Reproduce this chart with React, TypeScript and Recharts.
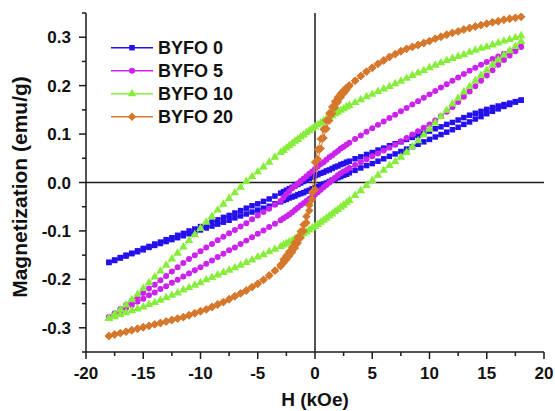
import React from 'react';
import { ScatterChart, Scatter, XAxis, YAxis, ReferenceLine, Symbols } from 'recharts';

// applied field H (kOe), descending branch order
const fieldDown = [
  18, 17.5, 17, 16.5, 16, 15.5, 15, 14.5, 14, 13.5, 13, 12.5, 12, 11.5, 11, 10.5,
  10, 9.5, 9, 8.5, 8, 7.5, 7, 6.5, 6, 5.5, 5, 4.5, 4, 3.5, 3,
  2.75, 2.5, 2.25, 2, 1.75, 1.5, 1.25, 1, 0.75, 0.5, 0.25, 0, -0.25, -0.5, -0.75,
  -1, -1.25, -1.5, -1.75, -2, -2.25, -2.5, -2.75,
  -3, -3.5, -4, -4.5, -5, -5.5, -6, -6.5, -7, -7.5, -8, -8.5, -9, -9.5, -10,
  -10.5, -11, -11.5, -12, -12.5, -13, -13.5, -14, -14.5, -15, -15.5, -16, -16.5,
  -17, -17.5, -18,
];
// ascending branch uses the same field steps in reverse
const fieldUp = [...fieldDown].reverse();

// BYFO 0
const byfo0Down = [
  0.170, 0.167, 0.164, 0.161, 0.158, 0.155, 0.151, 0.147, 0.143, 0.139, 0.134, 0.129, 0.124, 0.120, 0.115, 0.111,
  0.106, 0.102, 0.097, 0.093, 0.089, 0.084, 0.080, 0.076, 0.071, 0.067, 0.062, 0.058, 0.053, 0.049, 0.044,
  0.042, 0.039, 0.037, 0.034, 0.032, 0.029, 0.026, 0.024, 0.021, 0.019, 0.016, 0.014, 0.011, 0.008, 0.005,
  0.002, -0.001, -0.004, -0.007, -0.010, -0.013, -0.016, -0.019,
  -0.022, -0.028, -0.034, -0.039, -0.044, -0.048, -0.053, -0.058, -0.063, -0.068, -0.072, -0.077, -0.082, -0.087, -0.091,
  -0.096, -0.100, -0.105, -0.109, -0.114, -0.118, -0.123, -0.127, -0.132, -0.136, -0.141, -0.146, -0.150,
  -0.155, -0.160, -0.165,
];
const byfo0Up = [
  -0.165, -0.161, -0.156, -0.152, -0.147, -0.143, -0.139, -0.134, -0.130, -0.126, -0.122, -0.118, -0.114, -0.110, -0.106, -0.102,
  -0.098, -0.094, -0.090, -0.086, -0.082, -0.078, -0.073, -0.069, -0.065, -0.061, -0.057, -0.053, -0.049, -0.044, -0.040,
  -0.037, -0.035, -0.032, -0.030, -0.028, -0.025, -0.023, -0.021, -0.018, -0.016, -0.013, -0.011, -0.008, -0.006, -0.003,
  -0.001, 0.002, 0.005, 0.007, 0.010, 0.012, 0.015, 0.017,
  0.020, 0.025, 0.030, 0.035, 0.039, 0.044, 0.049, 0.054, 0.059, 0.064, 0.069, 0.074, 0.079, 0.084, 0.089,
  0.094, 0.099, 0.104, 0.109, 0.114, 0.120, 0.125, 0.131, 0.136, 0.142, 0.147, 0.152, 0.157,
  0.161, 0.166, 0.170,
];

// BYFO 5
const byfo5Down = [
  0.281, 0.276, 0.271, 0.266, 0.260, 0.255, 0.249, 0.243, 0.237, 0.231, 0.224, 0.217, 0.210, 0.203, 0.196, 0.189,
  0.182, 0.175, 0.168, 0.161, 0.154, 0.147, 0.140, 0.133, 0.126, 0.119, 0.112, 0.105, 0.097, 0.090, 0.082,
  0.078, 0.074, 0.070, 0.065, 0.061, 0.056, 0.052, 0.047, 0.042, 0.038, 0.033, 0.028, 0.023, 0.018, 0.013,
  0.008, 0.003, -0.002, -0.007, -0.012, -0.018, -0.024, -0.031,
  -0.038, -0.046, -0.054, -0.061, -0.068, -0.076, -0.084, -0.091, -0.098, -0.105, -0.112, -0.119, -0.127, -0.134, -0.142,
  -0.150, -0.158, -0.166, -0.175, -0.184, -0.193, -0.202, -0.211, -0.219, -0.228, -0.236, -0.244, -0.253,
  -0.261, -0.270, -0.278,
];
const byfo5Up = [
  -0.278, -0.272, -0.266, -0.259, -0.253, -0.246, -0.240, -0.233, -0.227, -0.220, -0.214, -0.207, -0.201, -0.194, -0.188, -0.181,
  -0.175, -0.168, -0.161, -0.154, -0.147, -0.140, -0.134, -0.127, -0.120, -0.113, -0.106, -0.099, -0.092, -0.085, -0.078,
  -0.074, -0.070, -0.066, -0.062, -0.057, -0.052, -0.047, -0.043, -0.038, -0.034, -0.029, -0.025, -0.020, -0.015, -0.010,
  -0.005, 0.000, 0.005, 0.010, 0.015, 0.019, 0.023, 0.026,
  0.030, 0.036, 0.042, 0.048, 0.054, 0.060, 0.066, 0.072, 0.078, 0.085, 0.092, 0.099, 0.106, 0.113, 0.120,
  0.128, 0.137, 0.146, 0.156, 0.166, 0.177, 0.188, 0.199, 0.210, 0.221, 0.232, 0.243, 0.253,
  0.262, 0.271, 0.280,
];

// BYFO 10
const byfo10Down = [
  0.303, 0.299, 0.295, 0.292, 0.288, 0.284, 0.280, 0.277, 0.273, 0.269, 0.264, 0.260, 0.256, 0.252, 0.247, 0.242,
  0.237, 0.231, 0.226, 0.221, 0.215, 0.209, 0.204, 0.198, 0.193, 0.188, 0.182, 0.177, 0.171, 0.165, 0.159,
  0.156, 0.152, 0.149, 0.145, 0.142, 0.138, 0.135, 0.131, 0.127, 0.123, 0.119, 0.115, 0.111, 0.107, 0.103,
  0.098, 0.094, 0.089, 0.085, 0.080, 0.076, 0.071, 0.066,
  0.062, 0.052, 0.042, 0.032, 0.022, 0.012, 0.002, -0.010, -0.021, -0.033, -0.045, -0.057, -0.070, -0.082, -0.095,
  -0.108, -0.120, -0.133, -0.146, -0.158, -0.171, -0.183, -0.195, -0.207, -0.219, -0.231, -0.242, -0.253,
  -0.263, -0.272, -0.281,
];
const byfo10Up = [
  -0.281, -0.277, -0.273, -0.269, -0.265, -0.261, -0.257, -0.252, -0.248, -0.243, -0.238, -0.233, -0.228, -0.222, -0.217, -0.212,
  -0.207, -0.201, -0.196, -0.191, -0.186, -0.181, -0.176, -0.171, -0.165, -0.160, -0.154, -0.149, -0.143, -0.138, -0.132,
  -0.129, -0.126, -0.123, -0.120, -0.116, -0.113, -0.109, -0.106, -0.102, -0.098, -0.094, -0.091, -0.087, -0.082, -0.078,
  -0.074, -0.069, -0.065, -0.060, -0.056, -0.051, -0.047, -0.042,
  -0.037, -0.027, -0.017, -0.006, 0.004, 0.015, 0.025, 0.035, 0.043, 0.052, 0.062, 0.074, 0.086, 0.098, 0.110,
  0.123, 0.136, 0.149, 0.162, 0.174, 0.187, 0.198, 0.210, 0.221, 0.232, 0.243, 0.253, 0.263,
  0.272, 0.281, 0.291,
];

// BYFO 20
const byfo20Down = [
  0.342, 0.340, 0.338, 0.336, 0.333, 0.331, 0.328, 0.325, 0.322, 0.319, 0.316, 0.312, 0.309, 0.305, 0.301, 0.297,
  0.292, 0.288, 0.284, 0.280, 0.276, 0.271, 0.265, 0.259, 0.252, 0.245, 0.237, 0.229, 0.220, 0.210, 0.201,
  0.196, 0.190, 0.184, 0.176, 0.167, 0.156, 0.143, 0.128, 0.110, 0.090, 0.068, 0.042, -0.020, -0.047, -0.070,
  -0.087, -0.101, -0.113, -0.124, -0.134, -0.143, -0.151, -0.159,
  -0.170, -0.182, -0.192, -0.201, -0.209, -0.216, -0.223, -0.229, -0.235, -0.241, -0.247, -0.252, -0.257, -0.262, -0.266,
  -0.270, -0.274, -0.278, -0.281, -0.284, -0.287, -0.290, -0.293, -0.296, -0.299, -0.302, -0.305, -0.308,
  -0.311, -0.314, -0.317,
];
const byfo20Up = [
  -0.317, -0.314, -0.311, -0.308, -0.305, -0.302, -0.299, -0.296, -0.293, -0.290, -0.287, -0.284, -0.281, -0.278, -0.274, -0.270,
  -0.266, -0.262, -0.257, -0.252, -0.247, -0.241, -0.235, -0.229, -0.223, -0.216, -0.209, -0.201, -0.192, -0.182, -0.173,
  -0.166, -0.159, -0.152, -0.144, -0.135, -0.125, -0.114, -0.100, -0.083, -0.058, -0.035, -0.015, 0.048, 0.070, 0.092,
  0.111, 0.128, 0.142, 0.155, 0.166, 0.176, 0.184, 0.191,
  0.199, 0.210, 0.220, 0.229, 0.237, 0.245, 0.252, 0.259, 0.265, 0.271, 0.276, 0.280, 0.284, 0.288, 0.292,
  0.297, 0.301, 0.305, 0.309, 0.312, 0.316, 0.319, 0.322, 0.325, 0.328, 0.331, 0.333, 0.336,
  0.338, 0.340, 0.342,
];

const seriesNames = ['BYFO 0', 'BYFO 5', 'BYFO 10', 'BYFO 20'];
const xTicks = [-20, -17.5, -15, -12.5, -10, -7.5, -5, -2.5, 0, 2.5, 5, 7.5, 10, 12.5, 15, 17.5, 20];
const yTicks = [-0.35, -0.3, -0.25, -0.2, -0.15, -0.1, -0.05, 0, 0.05, 0.1, 0.15, 0.2, 0.25, 0.3, 0.35];

const FONT = '"Liberation Sans", Arial, Helvetica, sans-serif';
const AXIS = '#1a1a1a';

const loop = (down: number[], up: number[]) => [
  ...fieldDown.map((h, i) => ({ h, m: down[i] })),
  ...fieldUp.map((h, i) => ({ h, m: up[i] })),
];

const series = [
  { name: seriesNames[0], color: '#2410EE', kind: 'square', data: loop(byfo0Down, byfo0Up) },
  { name: seriesNames[1], color: '#CC22EE', kind: 'circle', data: loop(byfo5Down, byfo5Up) },
  { name: seriesNames[2], color: '#86EE3A', kind: 'triangle', data: loop(byfo10Down, byfo10Up) },
  { name: seriesNames[3], color: '#D6782C', kind: 'diamond', data: loop(byfo20Down, byfo20Up) },
];

function Marker({ cx, cy, kind, color }: { cx: number; cy: number; kind: string; color: string }) {
  if (kind === 'diamond') {
    const r = 4.2;
    return (
      <polygon
        points={`${cx},${cy - r} ${cx + r},${cy} ${cx},${cy + r} ${cx - r},${cy}`}
        fill={color}
      />
    );
  }
  const size = kind === 'square' ? 30 : kind === 'circle' ? 28 : 32;
  return <Symbols cx={cx} cy={cy} type={kind as any} size={size} fill={color} />;
}

function YTick(props: any) {
  const { x, y, payload } = props;
  const v = payload.value;
  const major = Math.round(Math.abs(v) * 100) % 10 === 0;
  return (
    <g>
      <line x1={x} x2={x - (major ? 7 : 4)} y1={y} y2={y} stroke={AXIS} strokeWidth={1.5} />
      {major && (
        <text x={x - 15} y={y + 6} textAnchor="end" fontFamily={FONT} fontWeight="bold" fontSize={17} fill="#111">
          {v.toFixed(1)}
        </text>
      )}
    </g>
  );
}

function XTick(props: any) {
  const { x, y, payload } = props;
  const v = payload.value;
  const major = v % 5 === 0;
  return (
    <g>
      <line x1={x} x2={x} y1={y} y2={y + (major ? 7 : 4)} stroke={AXIS} strokeWidth={1.5} />
      {major && (
        <text x={x} y={y + 27} textAnchor="middle" fontFamily={FONT} fontWeight="bold" fontSize={17} fill="#111">
          {v}
        </text>
      )}
    </g>
  );
}

export default function App() {
  return (
    <div style={{ position: 'absolute', left: 0, top: 0, width: 555, height: 411, background: '#fff' }}>
      <ScatterChart width={555} height={411} margin={{ top: 13, right: 11, bottom: 0, left: 0 }}>
        <XAxis
          type="number"
          dataKey="h"
          domain={[-20, 20]}
          ticks={xTicks}
          interval={0}
          tickSize={0}
          tickMargin={0}
          tickLine={false}
          tick={(p: any) => <XTick {...p} />}
          axisLine={{ stroke: AXIS, strokeWidth: 1.5 }}
          height={59}
          allowDataOverflow
        />
        <YAxis
          type="number"
          dataKey="m"
          domain={[-0.35, 0.35]}
          ticks={yTicks}
          interval={0}
          tickSize={0}
          tickMargin={0}
          tickLine={false}
          tick={(p: any) => <YTick {...p} />}
          axisLine={{ stroke: AXIS, strokeWidth: 1.5 }}
          width={86}
          allowDataOverflow
        />
        <ReferenceLine x={0} stroke={AXIS} strokeWidth={1.5} />
        <ReferenceLine y={0} stroke={AXIS} strokeWidth={1.5} />
        {series.map(s => (
          <Scatter
            key={s.name}
            name={s.name}
            data={s.data}
            fill={s.color}
            line={{ stroke: s.color, strokeWidth: 1 }}
            lineType="joint"
            shape={(p: any) => <Marker cx={p.cx} cy={p.cy} kind={s.kind} color={s.color} />}
            isAnimationActive={false}
          />
        ))}
      </ScatterChart>
      <svg
        width={555}
        height={411}
        style={{ position: 'absolute', left: 0, top: 0, pointerEvents: 'none' }}
      >
        {series.map((s, i) => {
          const cy = 47.7 + i * 23;
          return (
            <g key={s.name}>
              <line x1={111} x2={153} y1={cy} y2={cy} stroke={s.color} strokeWidth={1.5} />
              <Marker cx={132} cy={cy} kind={s.kind} color={s.color} />
              <text x={158} y={cy + 6.4} fontFamily={FONT} fontWeight="bold" fontSize={18} fill="#111">
                {s.name}
              </text>
            </g>
          );
        })}
        <text
          transform="translate(27,187) rotate(-90)"
          textAnchor="middle"
          fontFamily={FONT}
          fontWeight="bold"
          fontSize={21}
          fill="#111"
        >
          Magnetization (emu/g)
        </text>
        <text x={315} y={406} textAnchor="middle" fontFamily={FONT} fontWeight="bold" fontSize={19} fill="#111">
          H (kOe)
        </text>
      </svg>
    </div>
  );
}
